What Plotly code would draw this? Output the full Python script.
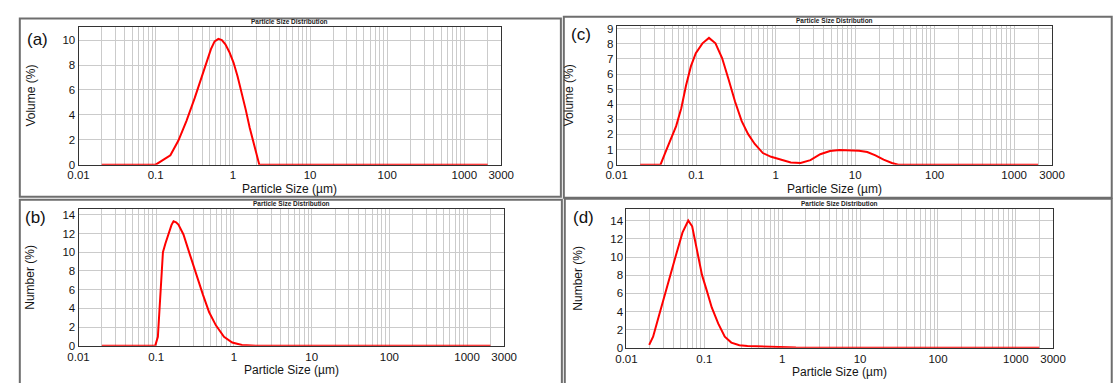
import math
import plotly.graph_objects as go

W, H = 1113, 383

# ---------------- data ----------------
a_size = [0.02, 0.1, 0.128, 0.155, 0.197, 0.25, 0.32, 0.41, 0.52, 0.58, 0.65, 0.72, 0.80, 0.90,
          1.02, 1.15, 1.30, 1.47, 1.65, 1.80, 1.95, 2.08, 2.2, 2000]
a_volume = [0, 0, 0.42, 0.76, 1.94, 3.5, 5.34, 7.3, 9.27, 9.9, 10.1, 10.0, 9.66, 9.05,
            8.2, 7.1, 5.86, 4.4, 2.98, 2.0, 1.15, 0.5, 0.0, 0]

b_size = [0.02, 0.097, 0.105, 0.111, 0.116, 0.122, 0.131, 0.145, 0.157, 0.167, 0.18, 0.193, 0.224,
          0.27, 0.328, 0.398, 0.48, 0.586, 0.745, 0.95, 1.27, 1.86, 2.0, 2000]
b_number = [0, 0, 0.97, 4.8, 7.6, 10.0, 10.9, 12.1, 12.9, 13.3, 13.2, 12.95, 11.9,
            9.8, 7.57, 5.5, 3.58, 2.19, 0.97, 0.35, 0.1, 0.05, 0.0, 0]

c_size = [0.0198, 0.0356, 0.042, 0.051, 0.056, 0.065, 0.0746, 0.086, 0.099, 0.12, 0.145, 0.175,
          0.212, 0.255, 0.309, 0.374, 0.451, 0.546, 0.69, 0.877, 1.17, 1.55, 2.06, 2.74, 3.64,
          4.83, 6.36, 8.5, 11.2, 14.2, 18.0, 22.8, 29.0, 34.9, 2000]
c_volume = [0, 0, 0.94, 2.0, 2.55, 3.73, 5.24, 6.52, 7.38, 8.03, 8.39, 8.03,
            7.06, 5.67, 4.16, 2.88, 2.02, 1.37, 0.77, 0.52, 0.34, 0.15, 0.11, 0.3, 0.69,
            0.9, 0.97, 0.95, 0.92, 0.84, 0.62, 0.34, 0.11, 0, 0]

d_size = [0.0196, 0.022, 0.0255, 0.0294, 0.0357, 0.0432, 0.0524, 0.0622, 0.0698, 0.0807, 0.0933,
          0.108, 0.1245, 0.151, 0.183, 0.222, 0.282, 0.358, 0.638, 1.5, 2000]
d_number = [0.32, 1.22, 3.2, 5.17, 7.68, 10.2, 12.7, 14.03, 13.4, 10.9, 8.04,
            6.25, 4.45, 2.66, 1.22, 0.57, 0.29, 0.2, 0.14, 0.02, 0]

x_tick_vals = [0.01, 0.1, 1, 10, 100, 1000, 3000]
x_tick_text = ["0.01", "0.1", "1", "10", "100", "1000", "3000"]
x_minor_vals = [k * 10.0 ** e for e in range(-2, 4) for k in range(2, 10) if k * 10.0 ** e <= 2000]

panel_labels = ["(a)", "(b)", "(c)", "(d)"]
y_titles = ["Volume (%)", "Number (%)", "Volume (%)", "Number (%)"]
x_title = "Particle Size (µm)"
chart_title = "Particle Size Distribution"

# ---------------- layout helpers ----------------
def px(x):
    return x / W

def py(y):
    return 1 - y / H

# plot areas in pixels: (left, right, top, bottom)
areas = {
    "a": (69, 501, 24, 165),
    "b": (69, 504, 210, 351),
    "c": (619, 1064, 23, 165),
    "d": (629, 1065, 210, 353),
}
y_ranges = {"a": [0, 11.02], "b": [0, 14.67], "c": [0, 9.15], "d": [0, 15.36]}
y_dticks = {"a": 2, "b": 2, "c": 1, "d": 2}

series = {
    "a": (a_size, a_volume),
    "b": (b_size, b_number),
    "c": (c_size, c_volume),
    "d": (d_size, d_number),
}

fig = go.Figure()
GRID = "#cbcbcb"
FONT = "Liberation Sans, Arial, sans-serif"
TXT = "#141414"

for i, key in enumerate(["a", "b", "c", "d"]):
    n = i + 1
    xa = "x" if n == 1 else f"x{n}"
    ya = "y" if n == 1 else f"y{n}"
    xs, ys = series[key]
    fig.add_trace(go.Scatter(x=xs, y=ys, mode="lines", xaxis=xa, yaxis=ya,
                             line=dict(color="#ff0000", width=2), hoverinfo="skip"))
    l, r, t, b = areas[key]
    xname = "xaxis" if n == 1 else f"xaxis{n}"
    yname = "yaxis" if n == 1 else f"yaxis{n}"
    fig.update_layout(**{
        xname: dict(
            type="log", domain=[px(l), px(r)], range=[-2, math.log10(3000)],
            anchor=ya, tickmode="array", tickvals=x_tick_vals, ticktext=x_tick_text,
            showgrid=True, gridcolor=GRID, gridwidth=1,
            minor=dict(tickmode="array", tickvals=x_minor_vals, showgrid=True,
                       gridcolor=GRID, gridwidth=1, ticks=""),
            showline=True, linecolor="#333333", linewidth=1, mirror=True,
            ticks="", zeroline=False, fixedrange=True,
            tickfont=dict(family=FONT, size=11.5, color=TXT),
        ),
        yname: dict(
            domain=[py(b), py(t)], range=y_ranges[key], anchor=xa,
            tick0=0, dtick=y_dticks[key],
            showgrid=True, gridcolor=GRID, gridwidth=1,
            showline=True, linecolor="#333333", linewidth=1, mirror=True,
            ticks="", zeroline=False, fixedrange=True,
            tickfont=dict(family=FONT, size=11.5, color=TXT),
        ),
    })

    # small chart title
    fig.add_annotation(text="<b>" + chart_title + "</b>", xref=f"{xa} domain", yref=f"{ya} domain",
                       x=0.5, y=1, xanchor="center", yanchor="bottom", showarrow=False,
                       font=dict(family=FONT, size=6.5, color="#222222"))
    # axis titles
    cx = (l + r) / 2
    fig.add_annotation(text=x_title, xref="paper", yref="paper", x=px(cx),
                       y=py(b + 25), xanchor="center", yanchor="middle", showarrow=False,
                       font=dict(family=FONT, size=12, color=TXT))
    fig.add_annotation(text=y_titles[i], xref="paper", yref="paper", x=px(l - 49),
                       y=py((t + b) / 2), xanchor="center", yanchor="middle", showarrow=False,
                       textangle=-90, font=dict(family=FONT, size=12, color=TXT))

# panel labels
label_pos = {"a": (27, 36), "b": (25, 219), "c": (583, 31), "d": (585, 219)}
for i, key in enumerate(["a", "b", "c", "d"]):
    lx, ly = label_pos[key]
    fig.add_annotation(text=panel_labels[i], xref="paper", yref="paper", x=px(lx), y=py(ly),
                       xanchor="center", yanchor="middle", showarrow=False,
                       font=dict(family=FONT, size=17, color="#111111"))

# outer frames
frames = [(9, 562, 15, 198), (9, 563, 201, 395), (565, 1125, 13, 199), (566, 1125, 200, 395)]
for (x0, x1, y0, y1) in frames:
    fig.add_shape(type="rect", xref="paper", yref="paper", x0=px(x0), x1=px(x1),
                  y0=py(y1), y1=py(y0), line=dict(color="#6e6e6e", width=2), layer="below")

fig.update_layout(width=W, height=H, margin=dict(l=0, r=0, t=0, b=0),
                  paper_bgcolor="white", plot_bgcolor="white", showlegend=False)

fig.write_html("out.html")
